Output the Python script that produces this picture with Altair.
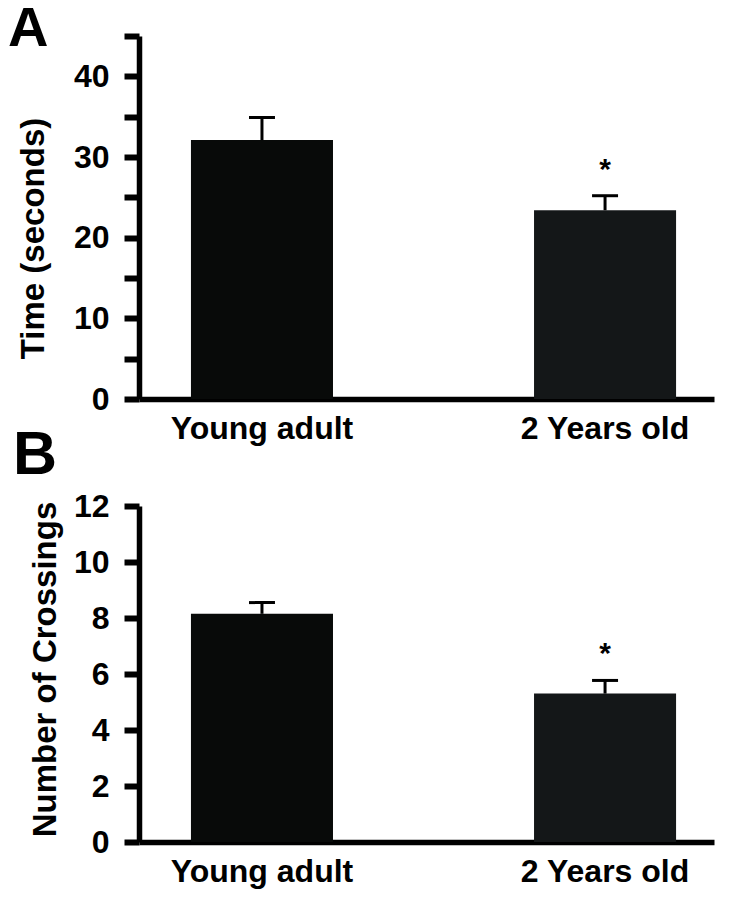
import altair as alt
import pandas as pd

groups = ["Young adult", "2 Years old"]
time_mean = [32.1, 23.4]
time_sem = [2.8, 1.8]
cross_mean = [8.15, 5.3]
cross_sem = [0.4, 0.47]
sig = ["", "*"]
time_ticks = [0, 5, 10, 15, 20, 25, 30, 35, 40, 45]
cross_ticks = [0, 2, 4, 6, 8, 10, 12]
bar_colors = ["#080a09", "#141718"]

FONT = "Liberation Sans"


def panel(mean, sem, ticks, ymax, title, letter, letter_x, letter_y, letter_size,
          height, title_x, title_y, label_expr):
    df = pd.DataFrame({
        "group": groups,
        "mean": mean,
        "upper": [m + s for m, s in zip(mean, sem)],
        "sig": sig,
    })
    xscale = alt.Scale(paddingInner=0.586, paddingOuter=0.131, align=0.578)
    xaxis = alt.Axis(title=None, labelAngle=0, ticks=False, tickSize=0, labelPadding=14,
                     labelFontSize=32, labelFontWeight="bold", labelFont=FONT,
                     labelColor="black", labelLimit=600, domainWidth=5.5,
                     domainColor="black")
    yscale = alt.Scale(domain=[0, ymax], nice=False, zero=True)
    yaxis = alt.Axis(title=title, values=ticks, labelExpr=label_expr, grid=False,
                     domainWidth=5.5, domainColor="black", tickWidth=6, tickSize=15,
                     tickColor="black", labelFontSize=32, labelFontWeight="bold",
                     labelPadding=15, labelColor="black", labelFont=FONT,
                     titleFont=FONT, titleFontSize=33, titleFontWeight="bold",
                     titleColor="black", titleX=title_x, titleY=title_y,
                     titleBaseline="alphabetic", titleAngle=270, titleAlign="center")
    base = alt.Chart(df)
    xn = alt.X("group:N", sort=groups, scale=xscale, axis=xaxis)
    bars = base.mark_bar().encode(
        x=xn,
        y=alt.Y("mean:Q", scale=yscale, axis=yaxis),
        color=alt.Color("group:N", scale=alt.Scale(domain=groups, range=bar_colors), legend=None),
    )
    err = base.mark_rule(color="black", strokeWidth=3).encode(
        x=xn, y=alt.Y("mean:Q", scale=yscale, axis=yaxis), y2="upper:Q")
    cap = base.mark_tick(color="black", size=26, thickness=3, opacity=1,
                         orient="horizontal").encode(
        x=xn, y=alt.Y("upper:Q", scale=yscale, axis=yaxis))
    star = base.mark_text(fontSize=30, fontWeight="bold", baseline="alphabetic", dy=-17,
                          font=FONT, color="black").encode(
        x=xn, y=alt.Y("upper:Q", scale=yscale, axis=yaxis), text="sig:N")
    lab = alt.Chart(pd.DataFrame({"t": [letter]})).mark_text(
        align="left", baseline="top", fontSize=letter_size, fontWeight="bold",
        font=FONT, color="black").encode(
        x=alt.value(letter_x), y=alt.value(letter_y), text="t:N")
    return alt.layer(bars, err, cap, star, lab).properties(width=575, height=height)


pa = panel(time_mean, time_sem, time_ticks, 45, "Time (seconds)", "A", -131, -34, 56,
           363, -96, 202, "datum.value % 10 == 0 ? datum.label : ''")
pb = panel(cross_mean, cross_sem, cross_ticks, 12, "Number of Crossings", "B", -126, -80, 61,
           336, -84, 163, "datum.label")

chart = alt.vconcat(pa, pb, spacing=107, bounds="flush").properties(
    padding={"left": 0, "top": -7, "right": 5, "bottom": 5}
).configure_view(stroke=None)

chart.save("out.html", embed_options={"renderer": "svg", "actions": False})
